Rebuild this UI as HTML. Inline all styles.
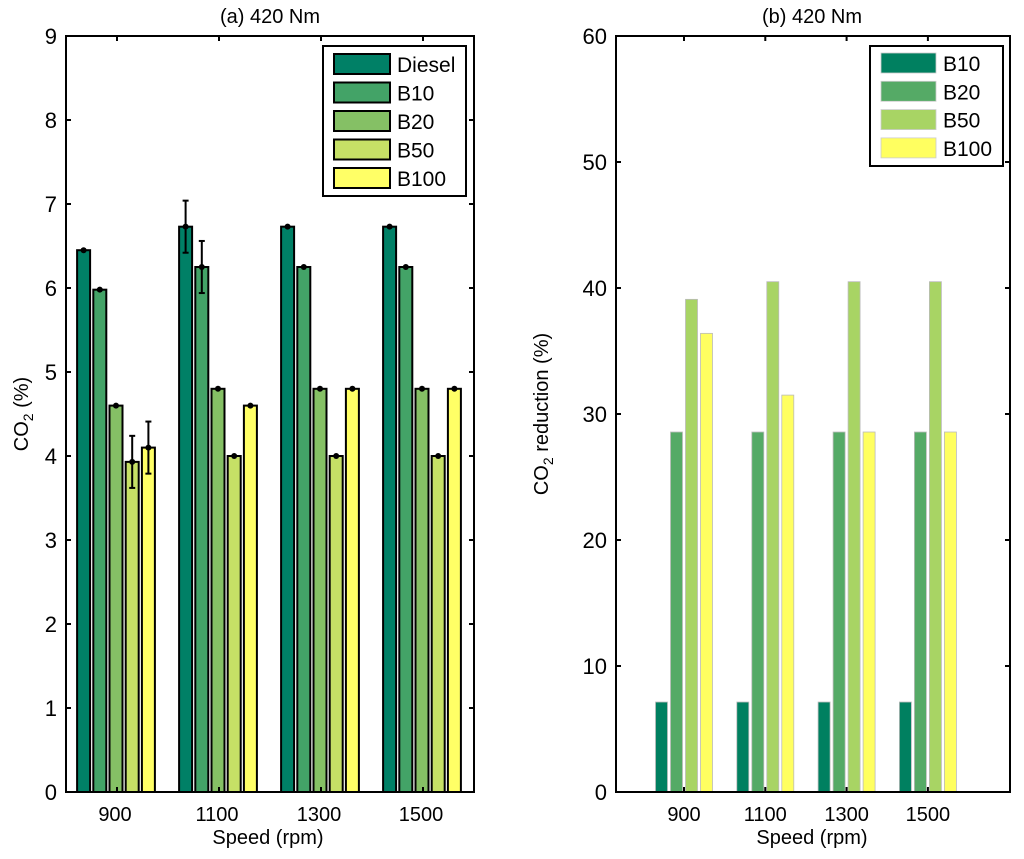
<!DOCTYPE html>
<html><head><meta charset="utf-8"><style>
body{margin:0;background:#fff;}
svg text{font-family:"Liberation Sans",sans-serif;fill:#000;}
</style></head><body>
<svg id="c" width="1024" height="854" xmlns="http://www.w3.org/2000/svg"></svg>
<script>
const categories=["900","1100","1300","1500"];
const seriesA=["Diesel","B10","B20","B50","B100"];
const dieselA=[6.45,6.73,6.73,6.73];
const b10A=[5.98,6.25,6.25,6.25];
const b20A=[4.6,4.8,4.8,4.8];
const b50A=[3.93,4.0,4.0,4.0];
const b100A=[4.1,4.6,4.8,4.8];
const errDiesel=[0,0.31,0,0];
const errB10=[0,0.31,0,0];
const errB20=[0,0,0,0];
const errB50v=[0.31,0,0,0];
const errB100=[0.31,0,0,0];
const yTicksA=[0,1,2,3,4,5,6,7,8,9];
const seriesB=["B10","B20","B50","B100"];
const b10B=[7.14,7.14,7.14,7.14];
const b20B=[28.57,28.57,28.57,28.57];
const b50B=[39.1,40.5,40.5,40.5];
const b100B=[36.4,31.5,28.57,28.57];
const yTicksB=[0,10,20,30,40,50,60];

const NS="http://www.w3.org/2000/svg";
const svg=document.getElementById('c');
function mk(tag,attrs,parent){const e=document.createElementNS(NS,tag);for(const k in attrs)e.setAttribute(k,attrs[k]);(parent||svg).appendChild(e);return e;}

// ---- Panel A ----
const A={l:66,r:474,t:36,b:792,max:9};
const yA=v=>A.b-(v/A.max)*(A.b-A.t);
const xA=i=>A.l+(A.r-A.l)/4*(i+0.5);
const colA=["#008066","#43a367","#85c065","#c6e066","#ffff66"];
const valsA=[dieselA,b10A,b20A,b50A,b100A];
const errsA=[errDiesel,errB10,errB20,errB50v,errB100];
const gA=mk('g',{});


valsA.forEach((vals,s)=>{
  vals.forEach((v,i)=>{
    const cx=xA(i)+(s-2)*16.2-1;
    const r=mk('rect',{x:cx-6.5,y:yA(v),width:13,height:yA(0)-yA(v),fill:colA[s],stroke:'#000','stroke-width':2},gA);
    
    
    const e=errsA[s][i];
    if(e>0){
      mk('line',{x1:cx,x2:cx,y1:yA(v+e),y2:yA(v-e),stroke:'#000','stroke-width':2},gA);
      mk('line',{x1:cx-3,x2:cx+3,y1:yA(v+e),y2:yA(v+e),stroke:'#000','stroke-width':2},gA);
      mk('line',{x1:cx-3,x2:cx+3,y1:yA(v-e),y2:yA(v-e),stroke:'#000','stroke-width':2},gA);
    }
    mk('circle',{cx:cx,cy:yA(v),r:3,fill:'#000'},gA);
  });
});
mk('rect',{x:A.l,y:A.t,width:A.r-A.l,height:A.b-A.t,fill:'none',stroke:'#000','stroke-width':2},gA);
yTicksA.forEach(t=>{
  mk('line',{x1:A.l,x2:A.l+5,y1:yA(t),y2:yA(t),stroke:'#000','stroke-width':2},gA);
  mk('line',{x1:A.r,x2:A.r-5,y1:yA(t),y2:yA(t),stroke:'#000','stroke-width':2},gA);
  const tx=mk('text',{x:A.l-9,y:yA(t)+8,'text-anchor':'end','font-size':22},gA);tx.textContent=t;
  
  
});
categories.forEach((c,i)=>{
  mk('line',{x1:xA(i),x2:xA(i),y1:A.b,y2:A.b-5,stroke:'#000','stroke-width':2},gA);
  mk('line',{x1:xA(i),x2:xA(i),y1:A.t,y2:A.t+5,stroke:'#000','stroke-width':2},gA);
  const tx=mk('text',{x:xA(i)-2,y:A.b+29,'text-anchor':'middle','font-size':20},gA);tx.textContent=c;
  
  
});
const lgA=mk('g',{},gA);


mk('rect',{x:323,y:46,width:143,height:150,fill:'#fff',stroke:'#000','stroke-width':2},lgA);
seriesA.forEach((s,k)=>{
  const y=64+k*28.5;
  mk('rect',{x:334,y:y-10,width:56,height:20,fill:colA[k],stroke:'#000','stroke-width':2},lgA);
  const tx=mk('text',{x:397,y:y+8,'font-size':21},lgA);tx.textContent=s;
  
  
});

// ---- Panel B ----
const B={l:616,r:1010,t:36,b:792,max:60};
const yB=v=>B.b-(v/B.max)*(B.b-B.t);
const xB=i=>684+81.3*i;
const colB=["#008060","#55aa66","#a8d464","#ffff60"];
const valsB=[b10B,b20B,b50B,b100B];
const gB=mk('g',{});


valsB.forEach((vals,s)=>{
  vals.forEach((v,i)=>{
    const cx=xB(i)+(s-1.5)*15;
    const r=mk('rect',{x:cx-6,y:yB(v),width:12,height:yB(0)-yB(v),fill:colB[s],stroke:'#bbb','stroke-width':0.8},gB);
    
    
  });
});
mk('rect',{x:B.l,y:B.t,width:B.r-B.l,height:B.b-B.t,fill:'none',stroke:'#000','stroke-width':2},gB);
yTicksB.forEach(t=>{
  mk('line',{x1:B.l,x2:B.l+5,y1:yB(t),y2:yB(t),stroke:'#000','stroke-width':2},gB);
  mk('line',{x1:B.r,x2:B.r-5,y1:yB(t),y2:yB(t),stroke:'#000','stroke-width':2},gB);
  const tx=mk('text',{x:B.l-9,y:yB(t)+8,'text-anchor':'end','font-size':22},gB);tx.textContent=t;
  
  
});
categories.forEach((c,i)=>{
  mk('line',{x1:xB(i),x2:xB(i),y1:B.b,y2:B.b-5,stroke:'#000','stroke-width':2},gB);
  mk('line',{x1:xB(i),x2:xB(i),y1:B.t,y2:B.t+5,stroke:'#000','stroke-width':2},gB);
  const tx=mk('text',{x:xB(i),y:B.b+29,'text-anchor':'middle','font-size':20},gB);tx.textContent=c;
  
  
});
const lgB=mk('g',{},gB);


mk('rect',{x:870,y:46,width:133,height:120,fill:'#fff',stroke:'#000','stroke-width':2},lgB);
seriesB.forEach((s,k)=>{
  const y=63+k*28.3;
  mk('rect',{x:881,y:y-10,width:55,height:20,fill:colB[k],stroke:'#ccc','stroke-width':0.8},lgB);
  const tx=mk('text',{x:943,y:y+8,'font-size':21},lgB);tx.textContent=s;
  
  
});
</script>
<svg width="1024" height="854" style="position:absolute;left:0;top:0" xmlns="http://www.w3.org/2000/svg">
<text x="270" y="23" text-anchor="middle" font-size="20">(a) 420 Nm</text>
<text x="812" y="23" text-anchor="middle" font-size="20">(b) 420 Nm</text>
<text x="268" y="844" text-anchor="middle" font-size="20">Speed (rpm)</text>
<text x="812" y="844" text-anchor="middle" font-size="20">Speed (rpm)</text>
<text transform="translate(28,414) rotate(-90)" text-anchor="middle" font-size="20">CO<tspan font-size="14" dy="5">2</tspan><tspan dy="-5"> (%)</tspan></text>
<text transform="translate(548,414) rotate(-90)" text-anchor="middle" font-size="20">CO<tspan font-size="14" dy="5">2</tspan><tspan dy="-5"> reduction (%)</tspan></text>
</svg>
</body></html>
